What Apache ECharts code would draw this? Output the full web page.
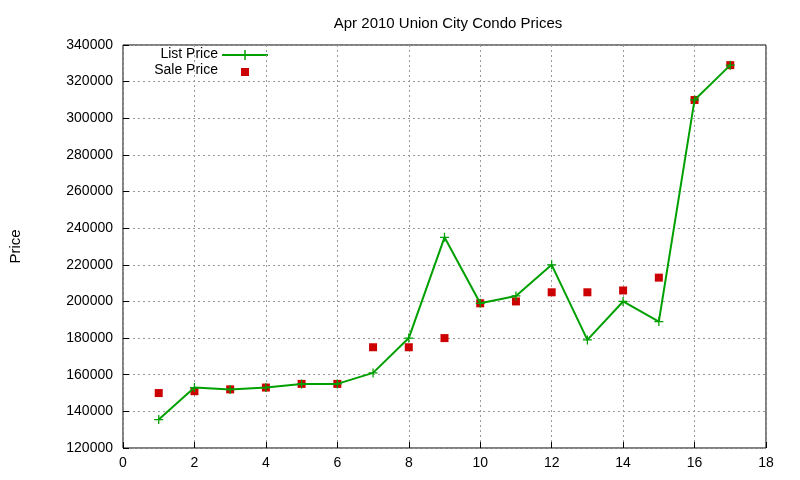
<!DOCTYPE html>
<html><head><meta charset="utf-8">
<script src="https://cdn.jsdelivr.net/npm/echarts@6/dist/echarts.min.js"></script>
<style>html,body{margin:0;padding:0;background:#fff}#c{width:800px;height:480px}</style>
</head><body><div id="c"></div>
<script>
const xs = [1,2,3,4,5,6,7,8,9,10,11,12,13,14,15,16,17];
const listPrice = [135500,153000,152000,153000,155000,155000,161000,180000,235000,199000,203000,220000,179000,200000,189000,310000,329000];
const salePrice = [150000,151000,152000,153000,155000,155000,175000,175000,180000,199000,200000,205000,205000,206000,213000,310000,329000];
const legendNames = ['List Price','Sale Price'];
const chart = echarts.init(document.getElementById('c'));
const font = 'Liberation Sans, Arial, sans-serif';
const cross = 'path://M4.3,0H5.7V4.3H10V5.7H5.7V10H4.3V5.7H0V4.3H4.3Z';
chart.setOption({
  animation:false,
  title:{text:'Apr 2010 Union City Condo Prices',left:443,textAlign:'center',top:11,textStyle:{fontFamily:font,fontSize:15,fontWeight:'normal',color:'#000'}},
  grid:{left:120,right:34,top:45,bottom:32,show:true,borderColor:'#000',borderWidth:1},
  graphic:[
    {type:'text',right:800-218,top:47,style:{text:legendNames[0],font:'14px '+font,fill:'#000'}},
    {type:'text',right:800-218,top:63,style:{text:legendNames[1],font:'14px '+font,fill:'#000'}},
    {type:'line',shape:{x1:222,y1:55,x2:268,y2:55},style:{stroke:'#00a000',lineWidth:2}},
    {type:'line',shape:{x1:245,y1:50,x2:245,y2:60},style:{stroke:'#00a000',lineWidth:1.5}},
    {type:'rect',shape:{x:241,y:68,width:8,height:8},style:{fill:'#cc0000'}}
  ],
  xAxis:{type:'value',min:0,max:18,interval:2,
    axisLine:{show:false},axisTick:{inside:true,length:6,lineStyle:{color:'#000'}},
    axisLabel:{fontFamily:font,fontSize:14,color:'#000',margin:8},
    splitLine:{lineStyle:{type:[2,3],color:'#999'}}},
  yAxis:{type:'value',min:120000,max:340000,interval:20000,name:'Price',nameLocation:'middle',nameGap:100,
    nameTextStyle:{fontFamily:font,fontSize:15,color:'#000'},
    axisLine:{show:false},axisTick:{inside:true,length:6,lineStyle:{color:'#000'}},
    axisLabel:{fontFamily:font,fontSize:14,color:'#000',margin:10,formatter:v=>String(v)},
    splitLine:{lineStyle:{type:[2,3],color:'#999'}}},
  series:[
    {name:'List Price',type:'line',data:xs.map((x,i)=>[x,listPrice[i]]),symbol:cross,symbolSize:9,
     lineStyle:{color:'#00a000',width:2},itemStyle:{color:'#00a000',opacity:1}},
    {name:'Sale Price',type:'scatter',data:xs.map((x,i)=>[x,salePrice[i]]),symbol:'rect',symbolSize:8,
     itemStyle:{color:'#cc0000',opacity:1}}
  ]
});
</script></body></html>
